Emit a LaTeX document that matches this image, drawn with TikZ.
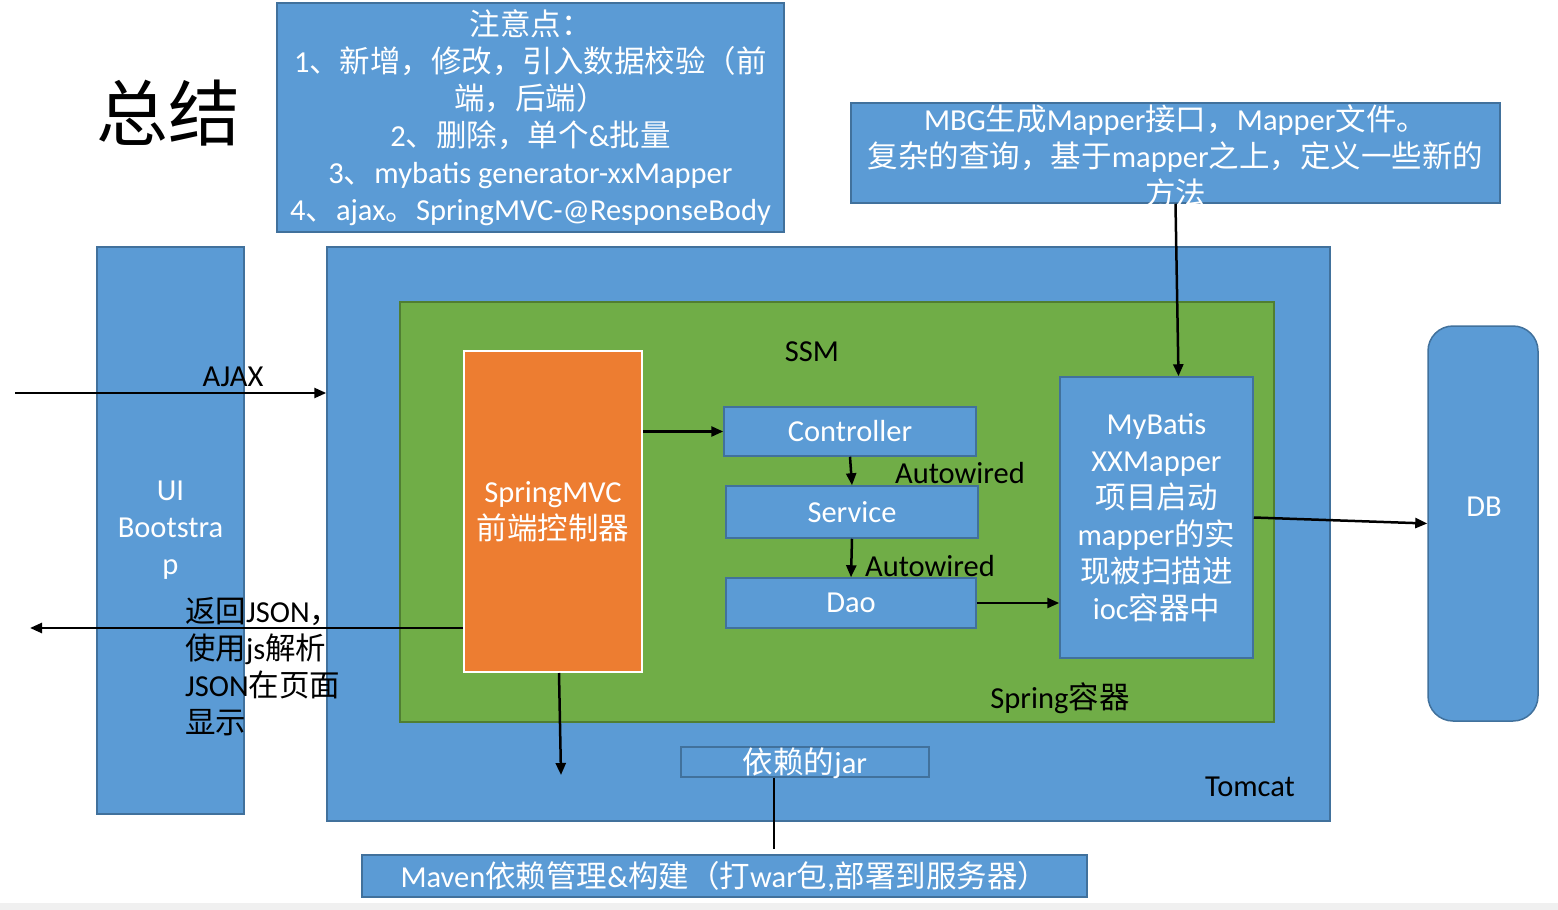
\documentclass[tikz,border=0pt]{standalone}
\usepackage{fontspec}
\setmainfont{Carlito}
\newfontfamily\zhfont{Noto Sans CJK SC}
\newcommand\zh[1]{{\zhfont #1}}
\usepackage{xcolor}
\definecolor{boxblue}{RGB}{91,155,213}
\definecolor{edgeblue}{RGB}{65,113,156}
\definecolor{leaf}{RGB}{112,173,71}
\definecolor{leafedge}{RGB}{80,126,50}
\definecolor{flame}{RGB}{237,125,49}
\definecolor{strip}{RGB}{240,240,240}
\usepackage{tikz}
\usetikzlibrary{positioning, arrows.meta}

\begin{document}
\begin{tikzpicture}[
  x=1pt, y=-1pt,
  box/.style={draw=edgeblue, fill=boxblue, line width=1.5pt, text=white,
              align=center, inner sep=0pt, font={\fontsize{30.5}{37}\selectfont}},
  wtext/.style={text=white, align=center, inner sep=0pt,
                font={\fontsize{30.5}{37}\selectfont}},
  lbl/.style={inner sep=0pt, font={\fontsize{30.5}{37}\selectfont}},
  arr/.style={-{Triangle[length=12pt,width=10pt]}, line width=2.5pt},
]
  \useasboundingbox (0,0) rectangle (1558,910);
  \fill[strip] (0,903) rectangle (1558,910);

  % Title and notes
  \node[inner sep=0pt, font={\zhfont\fontsize{72}{80}\selectfont}] (title) at (168,113) {总结};
  \node[box, minimum width=507pt, minimum height=229pt] (notes) at (530.5,117.5) {
    \zh{注意点：}\\
    1\zh{、新增，修改，引入数据校验（前}\\
    \zh{端，后端）}\\
    2\zh{、删除，单个}\&\zh{批量}\\
    3\zh{、}mybatis generator-xxMapper\\
    4\zh{、}ajax\zh{。}SpringMVC-@ResponseBody
  };
  \node[box, minimum width=649pt, minimum height=100pt] (mbg) at (1175.5,153) {};
  \node[wtext] (mbgtext) at (1175.5,156) {
    MBG\zh{生成}Mapper\zh{接口，}Mapper\zh{文件。}\\
    \zh{复杂的查询，基于}mapper\zh{之上，定义一些新的}\\
    \zh{方法}
  };

  % Containers
  \node[box, minimum width=147pt, minimum height=567pt] (ui) at (170.5,530.5) {UI\\Bootstra\\p};
  \node[box, minimum width=1003pt, minimum height=574pt] (tomcat) at (828.5,534) {};
  \node[lbl] (tomcatlbl) at (1250,787) {Tomcat};
  \node[draw=leafedge, fill=leaf, line width=1.5pt, minimum width=874pt,
        minimum height=420pt] (ssm) at (837,512) {};
  \node[lbl] (ssmlbl) at (812,352) {SSM};
  \node[lbl] (springlbl) at (1060,698) {Spring\zh{容器}};

  % Layers
  \node[draw=white, fill=flame, line width=2pt, text=white, align=center, inner sep=0pt,
        font={\fontsize{30.5}{37}\selectfont}, minimum width=178pt,
        minimum height=321pt] (mvc) at (553,511.5) {SpringMVC\\\zh{前端控制器}};
  \node[box, minimum width=252pt, minimum height=49pt] (ctrl) at (850,431.5) {Controller};
  \node[box, minimum width=252pt, minimum height=52pt] (svc) at (852,512) {Service};
  \node[box, minimum width=250pt, minimum height=50pt] (dao) at (851,603) {Dao};
  \node[lbl] (auto1) at (960,473) {Autowired};
  \node[lbl] (auto2) at (930,566) {Autowired};
  \node[box, minimum width=193pt, minimum height=281pt] (mb) at (1156.5,517.5) {
    MyBatis\\XXMapper\\\zh{项目启动}\\mapper\zh{的实}\\\zh{现被扫描进}\\ioc\zh{容器中}
  };
  \node[box, rounded corners=25pt, minimum width=110pt, minimum height=395pt] (db) at (1483,523.5) {};
  \node[wtext] (dbtext) at (1484,507) {DB};

  % Build
  \node[box, minimum width=248pt, minimum height=30pt, text height=25pt,
        text depth=2pt] (jar) at (805,762) {\zh{依赖的}jar};
  \node[box, minimum width=725pt, minimum height=42pt] (maven) at (724.5,876)
    {Maven\zh{依赖管理}\&\zh{构建（打}war\zh{包}{,}\zh{部署到服务器）}};

  % Connectors
  \coordinate (ajaxin) at (15,393);
  \draw[arr] (ajaxin) -- (ajaxin -| tomcat.west);
  \node[lbl] (ajaxlbl) at (233,377) {AJAX};
  \coordinate (retout) at (30,628);
  \draw[arr] (mvc.west |- retout) -- (retout);
  \node[lbl, align=left, anchor=west] (retlbl) at (185,667) {
    \zh{返回}JSON\zh{，}\\\zh{使用}js\zh{解析}\\JSON\zh{在页面}\\\zh{显示}
  };
  \draw[arr] (ctrl.west -| mvc.east) -- (ctrl.west);
  \draw[arr] (ctrl.south) -- (svc.north);
  \draw[arr] (svc.south) -- (dao.north);
  \draw[arr] (dao.east) -- (dao.east -| mb.west);
  \draw[arr] (mbg.south) -- ([xshift=22pt]mb.north);
  \draw[arr] (mb.east) -- (db.west);
  \coordinate (mvcout) at (561,775);
  \draw[arr] ([xshift=6pt]mvc.south) -- (mvcout);
  \draw[line width=2.5pt] ([xshift=-31pt]jar.south) -- ([xshift=-31pt,yshift=5pt]jar.south |- maven.north);
\end{tikzpicture}
\end{document}
